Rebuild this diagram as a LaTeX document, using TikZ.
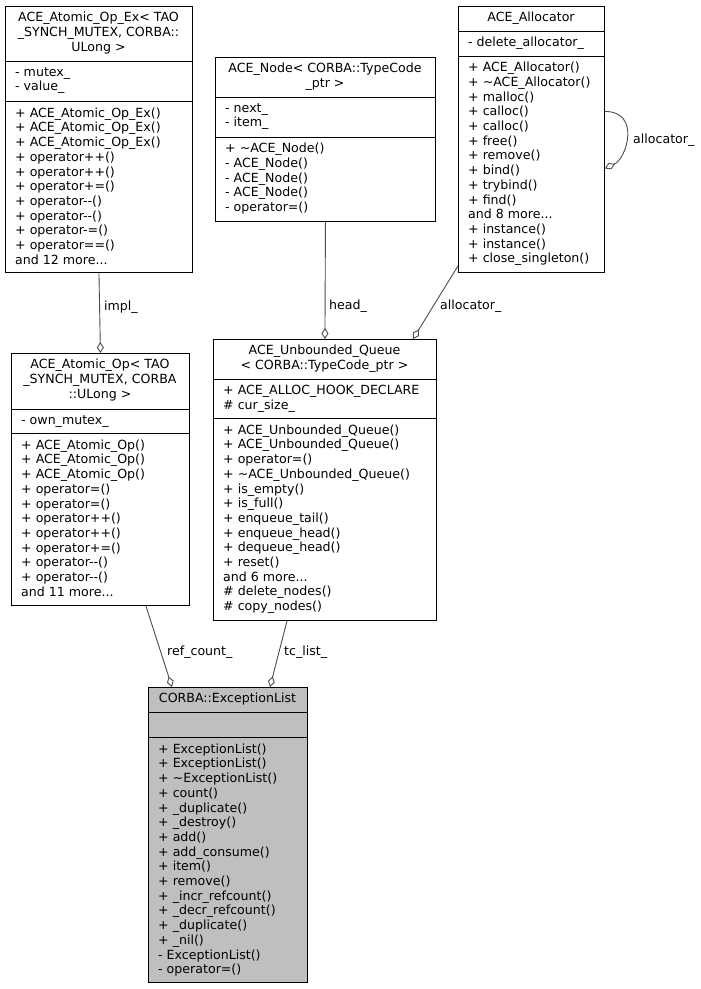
\documentclass[tikz,border=0pt]{standalone}
\usepackage{fontspec}
\setmainfont{DejaVu Sans}
\usetikzlibrary{arrows.meta}
\newcommand\tl{\textasciitilde}
\begin{document}
\begin{tikzpicture}[x=1pt,y=-1pt,
  box/.style={draw=black,line width=0.9pt,anchor=north west,inner sep=0,fill=white},
  txt/.style={anchor=north west,inner sep=0,align=left,yshift=1pt,xshift=4pt,font=\fontsize{12.6}{14.7}\selectfont},
  ttl/.style={anchor=north,inner sep=0,align=center,yshift=1pt,font=\fontsize{12.6}{14.7}\selectfont},
  lbl/.style={anchor=base west,inner sep=0,font=\fontsize{12.6}{14.7}\selectfont},
  sep/.style={line width=0.9pt},
  edge/.style={draw=black!70,line width=0.9pt,-{Diamond[open,length=11pt,width=7pt]}}]
\useasboundingbox (0,0) rectangle (701,989);
% ACE_Atomic_Op_Ex
\node[box,minimum width=187pt,minimum height=266pt] (opex) at (5,6) {};
\draw[sep] (5,61) -- (192,61) (5,101) -- (192,101);
\node[ttl] (opext) at (98.5,13) {ACE\_Atomic\_Op\_Ex< TAO\\\_SYNCH\_MUTEX, CORBA::\\ULong >};
\node[txt] (opexa) at (11,68) {- mutex\_\\- value\_};
\node[txt] (opexm) at (11,108.5) {+ ACE\_Atomic\_Op\_Ex()\\+ ACE\_Atomic\_Op\_Ex()\\+ ACE\_Atomic\_Op\_Ex()\\+ operator++()\\+ operator++()\\+ operator+=()\\+ operator-{}-()\\+ operator-{}-()\\+ operator-=()\\+ operator==()\\and 12 more...};
% ACE_Node
\node[box,minimum width=220pt,minimum height=164pt] (anode) at (215,57) {};
\draw[sep] (215,97) -- (435,97) (215,137) -- (435,137);
\node[ttl] (anodet) at (325,64) {ACE\_Node< CORBA::TypeCode\\\_ptr >};
\node[txt] (anodea) at (221,104) {- next\_\\- item\_};
\node[txt] (anodem) at (221,144) {+ \tl ACE\_Node()\\- ACE\_Node()\\- ACE\_Node()\\- ACE\_Node()\\- operator=()};
% ACE_Allocator
\node[box,minimum width=146pt,minimum height=266pt] (alloc) at (458,6) {};
\draw[sep] (458,31) -- (604,31) (458,56) -- (604,56);
\node[ttl] (alloct) at (531,13) {ACE\_Allocator};
\node[txt] (alloca) at (464,38) {- delete\_allocator\_};
\node[txt] (allocm) at (464,63) {+ ACE\_Allocator()\\+ \tl ACE\_Allocator()\\+ malloc()\\+ calloc()\\+ calloc()\\+ free()\\+ remove()\\+ bind()\\+ trybind()\\+ find()\\and 8 more...\\+ instance()\\+ instance()\\+ close\_singleton()};
% ACE_Atomic_Op
\node[box,minimum width=178pt,minimum height=252pt] (atop) at (11,353) {};
\draw[sep] (11,409) -- (189,409) (11,433) -- (189,433);
\node[ttl] (atopt) at (100,360) {ACE\_Atomic\_Op< TAO\\\_SYNCH\_MUTEX, CORBA\\::ULong >};
\node[txt] (atopa) at (17,416) {- own\_mutex\_};
\node[txt] (atopm) at (17,440.5) {+ ACE\_Atomic\_Op()\\+ ACE\_Atomic\_Op()\\+ ACE\_Atomic\_Op()\\+ operator=()\\+ operator=()\\+ operator++()\\+ operator++()\\+ operator+=()\\+ operator-{}-()\\+ operator-{}-()\\and 11 more...};
% ACE_Unbounded_Queue
\node[box,minimum width=223pt,minimum height=281pt] (queue) at (213,339) {};
\draw[sep] (213,379) -- (436,379) (213,418) -- (436,418);
\node[ttl] (queuet) at (324.5,346) {ACE\_Unbounded\_Queue\\< CORBA::TypeCode\_ptr >};
\node[txt] (queuea) at (219,386) {+ ACE\_ALLOC\_HOOK\_DECLARE\\\# cur\_size\_};
\node[txt] (queuem) at (219,425.5) {+ ACE\_Unbounded\_Queue()\\+ ACE\_Unbounded\_Queue()\\+ operator=()\\+ \tl ACE\_Unbounded\_Queue()\\+ is\_empty()\\+ is\_full()\\+ enqueue\_tail()\\+ enqueue\_head()\\+ dequeue\_head()\\+ reset()\\and 6 more...\\\# delete\_nodes()\\\# copy\_nodes()};
% CORBA::ExceptionList
\node[box,fill=black!25,minimum width=159pt,minimum height=295pt] (exc) at (148,687) {};
\draw[sep] (148,712) -- (307,712) (148,737) -- (307,737);
\node[ttl] (exct) at (227.5,694) {CORBA::ExceptionList};
\node[txt] (excm) at (154,744.5) {+ ExceptionList()\\+ ExceptionList()\\+ \tl ExceptionList()\\+ count()\\+ \_duplicate()\\+ \_destroy()\\+ add()\\+ add\_consume()\\+ item()\\+ remove()\\+ \_incr\_refcount()\\+ \_decr\_refcount()\\+ \_duplicate()\\+ \_nil()\\- ExceptionList()\\- operator=()};
% connectors
\draw[edge] (opex.south) -- (atop.north);
\node[lbl] (limpl) at (104,310) {impl\_};
\draw[edge] (anode.south) -- (queue.north);
\node[lbl] (lhead) at (329,309) {head\_};
\draw[edge] ([yshift=7pt]alloc.south west) -- ([xshift=200pt]queue.north west);
\node[lbl] (lalloc) at (440,309) {allocator\_};
\draw[edge] ([yshift=28pt]alloc.east) .. controls +(36,0) and +(22,-10) .. ([yshift=-29pt]alloc.east);
\node[lbl] (lself) at (633,143) {allocator\_};
\draw[edge] ([xshift=-44pt]atop.south east) -- ([xshift=24pt]exc.north west);
\node[lbl] (lref) at (167,655) {ref\_count\_};
\draw[edge] ([xshift=74pt]queue.south west) -- ([xshift=122pt]exc.north west);
\node[lbl] (ltc) at (284,655) {tc\_list\_};
\end{tikzpicture}
\end{document}
